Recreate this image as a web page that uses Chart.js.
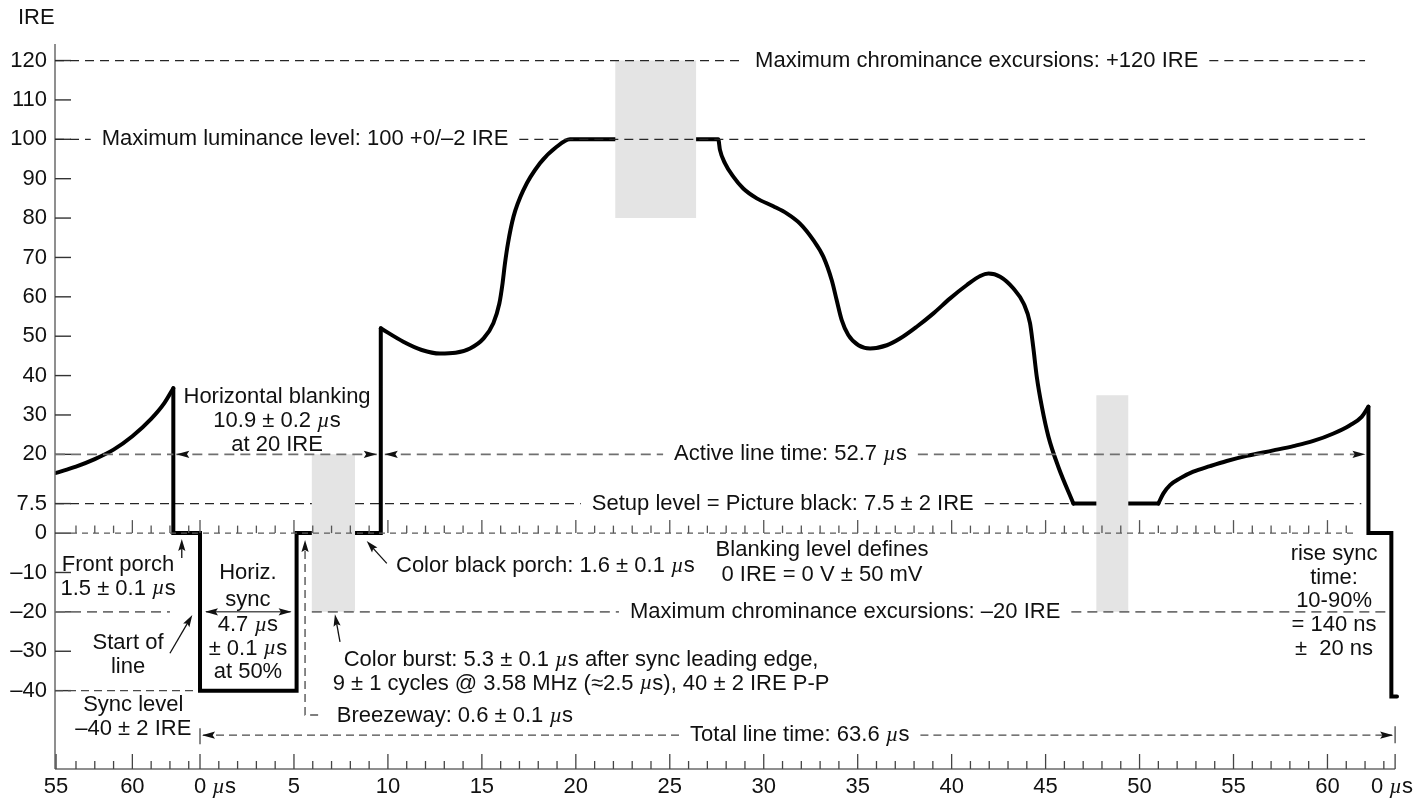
<!DOCTYPE html>
<html>
<head>
<meta charset="utf-8">
<title>NTSC horizontal line timing</title>
<script src="https://cdn.jsdelivr.net/npm/chart.js@4/dist/chart.umd.min.js"></script>
<style>
  html, body { margin: 0; padding: 0; background: #fff; }
  canvas { display: block; }
</style>
</head>
<body>
<canvas id="c" width="1423" height="798"></canvas>
<script>
// ---- Time axis (µs from the sync leading edge of the current line) ----
const timeTickUs     = [-7.66, -3.6, 0, 5, 10, 15, 20, 25, 30, 35, 40, 45, 50, 55, 60, 63.6];
const timeTickLabels = ['55', '60', '0 µs', '5', '10', '15', '20', '25', '30', '35', '40', '45', '50', '55', '60', '0 µs'];
const prevLineMinorUs = [-6.6, -5.6, -4.6, -2.6, -1.6, -0.6];
const lineEndUs = 63.6;

// ---- IRE axis ----
const ireTicks      = [-40, -30, -20, -10, 0, 7.5, 20, 30, 40, 50, 60, 70, 80, 90, 100, 110, 120];
const ireTickLabels = ['–40', '–30', '–20', '–10', '0', '7.5', '20', '30', '40', '50', '60', '70', '80', '90', '100', '110', '120'];

// ---- Waveform ----
// end of the previous line's picture
const prevLineUs  = [-7.66, -6.6, -5.6, -4.6, -3.6, -2.6, -1.9, -1.42];
const prevLineIre = [15.3, 16.9, 18.8, 21.2, 24.6, 29.0, 33.0, 36.8];
// front porch, sync tip, breezeway + back porch
const blankingUs  = [-1.42, -1.42, 0, 0, 5.14, 5.14, 9.62, 9.62];
const blankingIre = [36.8, 0, 0, -40, -40, 0, 0, 52];
// active picture content
const activeUs  = [9.62, 10.82, 11.8, 12.77, 13.6, 14.37, 15.08, 15.61, 15.93, 16.1, 16.23, 16.39, 16.68, 17.21,
                   18.09, 18.98, 19.69,
                   27.58, 27.67, 27.94, 28.38, 28.91, 29.63, 30.51, 31.22, 31.93, 32.64, 33.17, 33.62, 33.88,
                   34.15, 34.5, 35.04, 35.66, 36.55, 37.25, 38.14, 39.03, 39.92, 40.81, 41.52, 41.96, 42.58,
                   43.29, 43.83, 44.17, 44.34, 44.53, 44.8, 45.15, 45.68, 46.48];
const activeIre = [52, 48.6, 46.5, 45.6, 45.8, 46.9, 49.4, 53.3, 58.3, 63.4, 68.5, 73.6, 80.3, 87.1,
                   93.9, 98.1, 100,
                   100, 97.3, 93.9, 90.5, 87.5, 85.0, 83.0, 81.2, 78.6, 74.4, 70.2, 64.2, 59.2,
                   54.1, 50.3, 47.7, 46.9, 47.7, 49.4, 52.4, 55.8, 59.6, 63.0, 65.3, 65.9, 65.1,
                   62.1, 58.3, 53.3, 47.3, 39.7, 32.1, 24.5, 16.8, 7.5];
const blackUs  = [46.48, 51.0];
const blackIre = [7.5, 7.5];
const rampUs  = [51.0, 51.27, 51.62, 52.15, 52.86, 53.75, 54.64, 55.7, 57.12, 58.19, 59.25, 60.32, 61.2, 61.82, 62.18];
const rampIre = [7.5, 10.1, 12.2, 13.9, 15.6, 17.0, 18.3, 19.6, 21.0, 22.1, 23.4, 25.3, 27.4, 29.5, 32.1];
// front porch and sync of the next line
const nextSyncUs  = [62.18, 62.18, 63.4, 63.4, 63.7];
const nextSyncIre = [32.1, 0, 0, -41.5, -41.5];

// ---- Shaded tolerance zones (burst, +120 excursion, chroma excursion) ----
const shadeStartUs = [5.95, 22.1, 47.7];
const shadeEndUs   = [8.25, 26.4, 49.4];
const shadeLowIre  = [-20, 80, -20];
const shadeHighIre = [20, 120, 35];

// ---------------------------------------------------------------------
const FAMILY = '"Liberation Sans", Arial, Helvetica, sans-serif';
const SIZE = 22;
const INK = '#111';
const DARK_DASH = { color: '#262626', width: 1.3, dash: [9, 6] };
const GRAY_DASH = { color: '#707070', width: 1.6, dash: [10, 6] };
const MID_DASH  = { color: '#4a4a4a', width: 1.4, dash: [8, 5] };

Chart.defaults.font.family = FAMILY;

const zip = (xs, ys) => xs.map((x, i) => ({ x, y: ys[i] }));

function trace(xs, ys, smooth) {
  return {
    data: zip(xs, ys),
    borderColor: '#000',
    borderWidth: 4,
    pointRadius: 0,
    fill: false,
    tension: 0,
    cubicInterpolationMode: smooth ? 'monotone' : 'default',
    borderCapStyle: 'round',
    borderJoinStyle: 'miter',
    order: 2
  };
}

function shade(i) {
  const x0 = shadeStartUs[i], x1 = shadeEndUs[i], lo = shadeLowIre[i], hi = shadeHighIre[i];
  return {
    data: [{ x: x0, y: lo }, { x: x0, y: hi }, { x: x1, y: hi }, { x: x1, y: lo }, { x: x0, y: lo }],
    borderWidth: 0,
    borderColor: 'rgba(0,0,0,0)',
    backgroundColor: '#e4e4e4',
    pointRadius: 0,
    fill: 'shape',
    tension: 0,
    order: 1
  };
}

const datasets = [
  shade(0), shade(1), shade(2),
  trace(prevLineUs, prevLineIre, true),
  trace(blankingUs, blankingIre, false),
  trace(activeUs, activeIre, true),
  trace(blackUs, blackIre, false),
  trace(rampUs, rampIre, true),
  trace(nextSyncUs, nextSyncIre, false)
];

// ---- text helpers: µ is set in an italic serif, the rest in sans ----
function runs(str) { return str.split(/(µ)/).filter(s => s.length); }
function fontFor(run) { return run === 'µ' ? `italic ${SIZE}px "Liberation Serif", serif` : `${SIZE}px ${FAMILY}`; }
function measure(ctx, str) {
  let w = 0;
  for (const r of runs(str)) { ctx.font = fontFor(r); w += ctx.measureText(r).width; }
  return w;
}
function text(ctx, str, x, y, align) {
  const w = measure(ctx, str);
  let cx = align === 'center' ? x - w / 2 : align === 'right' ? x - w : x;
  ctx.save();
  ctx.fillStyle = INK;
  ctx.textBaseline = 'middle';
  ctx.textAlign = 'left';
  for (const r of runs(str)) { ctx.font = fontFor(r); ctx.fillText(r, cx, y); cx += ctx.measureText(r).width; }
  ctx.restore();
  return w;
}
function lines(ctx, arr, x, y, align, lh) {
  arr.forEach((s, i) => text(ctx, s, x, y + i * lh, align));
}
function seg(ctx, x1, y1, x2, y2, st) {
  if (x2 - x1 < 0.5 && Math.abs(y2 - y1) < 0.5) return;
  ctx.save();
  ctx.strokeStyle = st.color; ctx.lineWidth = st.width; ctx.setLineDash(st.dash || []);
  ctx.beginPath(); ctx.moveTo(x1, y1); ctx.lineTo(x2, y2); ctx.stroke();
  ctx.restore();
}
function head(ctx, x, y, ang, len, hw) {
  ctx.save();
  ctx.translate(x, y); ctx.rotate(ang);
  ctx.fillStyle = INK;
  ctx.beginPath();
  ctx.moveTo(0, 0); ctx.lineTo(-len, -hw); ctx.lineTo(-len * 0.82, 0); ctx.lineTo(-len, hw);
  ctx.closePath(); ctx.fill();
  ctx.restore();
}
function pointer(ctx, x1, y1, x2, y2) {
  const ang = Math.atan2(y2 - y1, x2 - x1);
  seg(ctx, x1, y1, x2 - Math.cos(ang) * 6, y2 - Math.sin(ang) * 6, { color: INK, width: 1.3 });
  head(ctx, x2, y2, ang, 12, 3.6);
}
// horizontal dashed level with an inline label
function labelledLevel(ctx, y, x1, x2, label, labelX, st) {
  const w = measure(ctx, label);
  const gap = 11;
  seg(ctx, x1, y, labelX - gap, y, st);
  seg(ctx, labelX + w + gap, y, x2, y, st);
  text(ctx, label, labelX, y, 'left');
}

const annotate = {
  id: 'annotate',
  beforeDatasetsDraw(chart) {
    const { ctx, chartArea: ca } = chart;
    const X = v => chart.scales.x.getPixelForValue(v);
    const Y = v => chart.scales.y.getPixelForValue(v);
    // setup level sits underneath the waveform and the shaded zone
    labelledLevel(ctx, Y(7.5), ca.left, X(61.8), 'Setup level = Picture black: 7.5 ± 2 IRE', X(20.85), DARK_DASH);
  },
  afterDatasetsDraw(chart) {
    const { ctx, chartArea: ca } = chart;
    const X = v => chart.scales.x.getPixelForValue(v);
    const Y = v => chart.scales.y.getPixelForValue(v);

    // axes
    seg(ctx, ca.left, ca.top, ca.left, ca.bottom, { color: '#6a6a6a', width: 1.5 });
    seg(ctx, ca.left, ca.bottom, X(lineEndUs), ca.bottom, { color: '#6a6a6a', width: 1.5 });
    ireTicks.forEach(v => seg(ctx, ca.left, Y(v), ca.left + 16, Y(v), { color: '#333', width: 1.4 }));

    // time ticks: along the base of the plot and along the blanking level
    const minor = prevLineMinorUs.slice();
    for (let us = 1; us < 64; us++) if (us % 5) minor.push(us);
    const rowEnd = 61.5;
    seg(ctx, ca.left + 16, Y(0), X(rowEnd), Y(0), { color: '#5a5a5a', width: 1.3, dash: [6, 5] });
    minor.forEach(us => {
      seg(ctx, X(us), ca.bottom, X(us), ca.bottom - 8, { color: '#444', width: 1.3 });
      if (us <= rowEnd) seg(ctx, X(us), Y(0), X(us), Y(0) - 7.5, { color: '#555', width: 1.3 });
    });
    timeTickUs.forEach((us, i) => {
      seg(ctx, X(us), ca.bottom, X(us), ca.bottom - 15, { color: '#444', width: 1.3 });
      if (us <= rowEnd && us > -7.5) seg(ctx, X(us), Y(0), X(us), Y(0) - 13, { color: '#555', width: 1.3 });
      const lab = timeTickLabels[i];
      const lead = lab.split(' ')[0];
      ctx.font = `${SIZE}px ${FAMILY}`;
      let x0 = X(us) - ctx.measureText(lead).width / 2;
      const w = measure(ctx, lab);
      if (x0 + w > chart.width - 10) x0 = chart.width - 10 - w;
      text(ctx, lab, x0, ca.bottom + 18, 'left');
    });
    text(ctx, 'IRE', ca.left - 37, ca.top - 26, 'left');

    // levels
    labelledLevel(ctx, Y(120), ca.left, X(62.0), 'Maximum chrominance excursions: +120 IRE', X(29.54), DARK_DASH);
    labelledLevel(ctx, Y(100), ca.left, X(62.0), 'Maximum luminance level: 100 +0/–2 IRE', X(-5.23), DARK_DASH);
    seg(ctx, ca.left, Y(-40), X(-0.37), Y(-40), MID_DASH);
    seg(ctx, ca.left, Y(-20), X(-1.6), Y(-20), GRAY_DASH);
    labelledLevel(ctx, Y(-20), X(shadeStartUs[0]), X(63.35), 'Maximum chrominance excursions: –20 IRE', X(22.88), GRAY_DASH);

    // 20 IRE: blanking width and active line time
    const y20 = Y(20);
    seg(ctx, ca.left, y20, X(-1.42), y20, GRAY_DASH);
    seg(ctx, X(-1.42) + 3, y20, X(9.62) - 4, y20, GRAY_DASH);
    head(ctx, X(-1.42) + 3, y20, Math.PI, 13, 3.6);
    head(ctx, X(9.62) - 4, y20, 0, 13, 3.6);
    labelledLevel(ctx, y20, X(9.62) + 4, X(62.18) - 3, 'Active line time: 52.7 µs', X(25.23), GRAY_DASH);
    head(ctx, X(9.62) + 4, y20, Math.PI, 13, 3.6);
    head(ctx, X(62.18) - 3, y20, 0, 13, 3.6);
    lines(ctx, ['Horizontal blanking', '10.9 ± 0.2 µs', 'at 20 IRE'], X(4.1), Y(34.46), 'center', 23.8);

    // total line time
    const yT = Y(-51.3);
    labelledLevel(ctx, yT, X(0) + 3, X(lineEndUs) - 3, 'Total line time: 63.6 µs', X(26.08), MID_DASH);
    head(ctx, X(0) + 2, yT, Math.PI, 13, 3.6);
    head(ctx, X(lineEndUs) - 2, yT, 0, 13, 3.6);
    seg(ctx, X(0), yT - 7, X(0), yT + 9, { color: '#555', width: 1.4 });
    seg(ctx, X(lineEndUs), yT - 9, X(lineEndUs), yT + 8, { color: '#555', width: 1.4 });

    // horizontal sync width
    const yS = Y(-20);
    seg(ctx, X(0) + 6, yS, X(5.14) - 6, yS, { color: '#555', width: 1.5 });
    head(ctx, X(0) + 5, yS, Math.PI, 13, 3.6);
    head(ctx, X(5.14) - 5, yS, 0, 13, 3.6);
    lines(ctx, ['Horiz.', 'sync'], X(2.55), Y(-10.2), 'center', 26.7);
    lines(ctx, ['4.7 µs', '± 0.1 µs', 'at 50%'], X(2.55), Y(-23.36), 'center', 23.4);

    // breezeway
    const xB = X(5.59), yB = Y(-46.2);
    ctx.save();
    ctx.strokeStyle = '#555'; ctx.lineWidth = 1.4; ctx.setLineDash([8, 5]);
    ctx.beginPath(); ctx.moveTo(xB, Y(-1.78) + 11); ctx.lineTo(xB, yB); ctx.lineTo(X(6.55), yB); ctx.stroke();
    ctx.restore();
    head(ctx, xB, Y(-1.78), -Math.PI / 2, 12, 3.6);
    text(ctx, 'Breezeway: 0.6 ± 0.1 µs', X(7.28), Y(-46.5), 'left');

    // callouts
    lines(ctx, ['Front porch', '1.5 ± 0.1 µs'], X(-4.36), Y(-8.13), 'center', 23.4);
    pointer(ctx, X(-0.97), Y(-6.3), X(-0.97), Y(-1.5));
    lines(ctx, ['Start of', 'line'], X(-3.83), Y(-28.0), 'center', 23.4);
    pointer(ctx, X(-1.6), Y(-30.5), X(-0.41), Y(-20.8));
    lines(ctx, ['Sync level', '–40 ± 2 IRE'], X(-3.55), Y(-43.7), 'center', 23.4);
    text(ctx, 'Color black porch: 1.6 ± 0.1 µs', X(10.43), Y(-8.38), 'left');
    pointer(ctx, X(9.94), Y(-7.7), X(8.87), Y(-2.03));
    lines(ctx, ['Blanking level defines', '0 IRE = 0 V ± 50 mV'], X(33.1), Y(-4.3), 'center', 24.5);
    lines(ctx, ['Color burst: 5.3 ± 0.1 µs after sync leading edge,',
                '9 ± 1 cycles @ 3.58 MHz (≈2.5 µs), 40 ± 2 IRE P-P'], X(20.28), Y(-32.25), 'center', 23.4);
    pointer(ctx, X(7.45), Y(-27.6), X(7.18), Y(-20.6));
    lines(ctx, ['rise sync', 'time:', '10-90%', '= 140 ns', '±  20 ns'], X(60.35), Y(-5.33), 'center', 23.6);
  }
};

new Chart(document.getElementById('c'), {
  type: 'line',
  data: { datasets },
  options: {
    responsive: false,
    animation: false,
    devicePixelRatio: 1,
    events: [],
    layout: { padding: { top: 44, right: 23, bottom: 0, left: 0 } },
    plugins: {
      legend: { display: false },
      tooltip: { enabled: false },
      filler: { propagate: false }
    },
    scales: {
      x: {
        type: 'linear',
        min: -7.717,
        max: 63.86,
        ticks: { display: false },
        grid: { display: false, drawTicks: false },
        border: { display: false },
        afterFit: s => { s.height = 29; }
      },
      y: {
        type: 'linear',
        min: -59.9,
        max: 124.2,
        afterBuildTicks: s => { s.ticks = ireTicks.map(v => ({ value: v })); },
        ticks: {
          autoSkip: false,
          padding: 8,
          color: INK,
          font: { family: FAMILY, size: SIZE },
          callback: (v, i) => ireTickLabels[i]
        },
        grid: { display: false, drawTicks: false },
        border: { display: false },
        afterFit: s => { s.width = 55; }
      }
    }
  },
  plugins: [annotate]
});
</script>
</body>
</html>
